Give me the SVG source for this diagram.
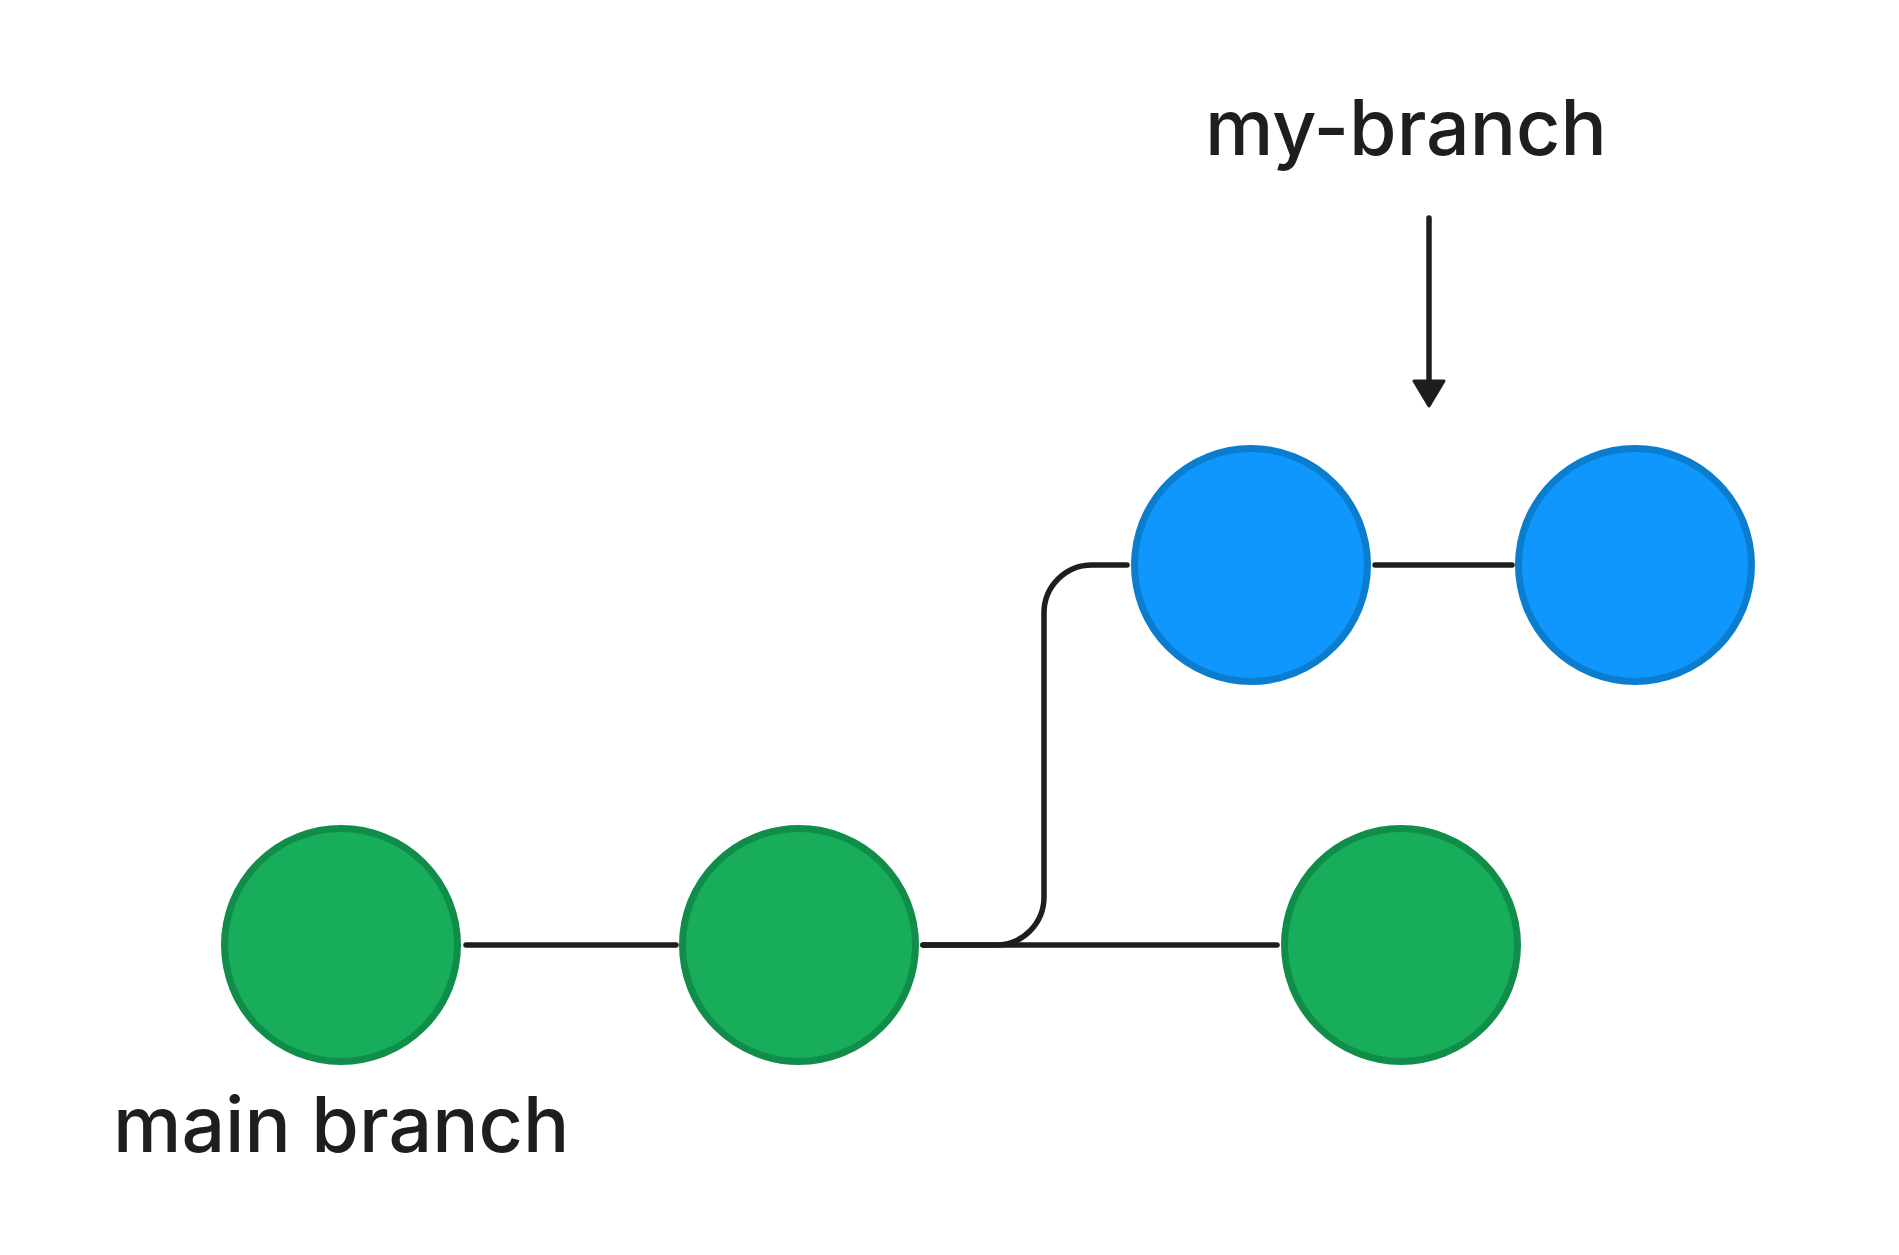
<svg xmlns="http://www.w3.org/2000/svg" width="1899" height="1255" viewBox="0 0 1899 1255">
  <style>
    .main { fill: #17AD5B; stroke: #118D4A; stroke-width: 7; }
    .mine { fill: #0F97FE; stroke: #0B7DCF; stroke-width: 7; }
    .edge { fill: none; stroke: #1E1E1E; stroke-width: 5.5; stroke-linecap: round; stroke-linejoin: round; }
    .label { font-family: Inter, "Noto Sans", "Liberation Sans", sans-serif; font-size: 77px; font-weight: 500; fill: #1E1E1E; }
  </style>
  <defs>
    <marker id="arrowhead" viewBox="0 0 30 34" refX="24" refY="17" markerWidth="30" markerHeight="34" markerUnits="userSpaceOnUse" orient="auto">
      <path d="M2,2 L27,17 L2,32 Z" fill="#1E1E1E" stroke="#1E1E1E" stroke-width="3" stroke-linejoin="round"/>
    </marker>
  </defs>
  <rect width="1899" height="1255" fill="#FFFFFF"/>
  <g id="connectors">
    <path class="edge" d="M466,945 L676,945"/>
    <path class="edge" d="M923,945 L1277,945"/>
    <path class="edge" d="M923,945 L996,945 A48,48 0 0 0 1044,897 L1044,613 A48,48 0 0 1 1092,565 L1127,565"/>
    <path class="edge" d="M1375,565 L1512,565"/>
    <path class="edge" d="M1429,218 L1429,403" marker-end="url(#arrowhead)"/>
  </g>
  <g id="node-main-1"><circle class="main" cx="341" cy="945" r="116.5"/></g>
  <g id="node-main-2"><circle class="main" cx="799" cy="945" r="116.5"/></g>
  <g id="node-main-3"><circle class="main" cx="1401" cy="945" r="116.5"/></g>
  <g id="node-my-1"><circle class="mine" cx="1251" cy="565" r="116.5"/></g>
  <g id="node-my-2"><circle class="mine" cx="1635" cy="565" r="116.5"/></g>
  <g id="label-my-branch"><text class="label" x="1205" y="155">my-branch</text></g>
  <g id="label-main-branch"><text class="label" x="113" y="1152">main branch</text></g>
</svg>
